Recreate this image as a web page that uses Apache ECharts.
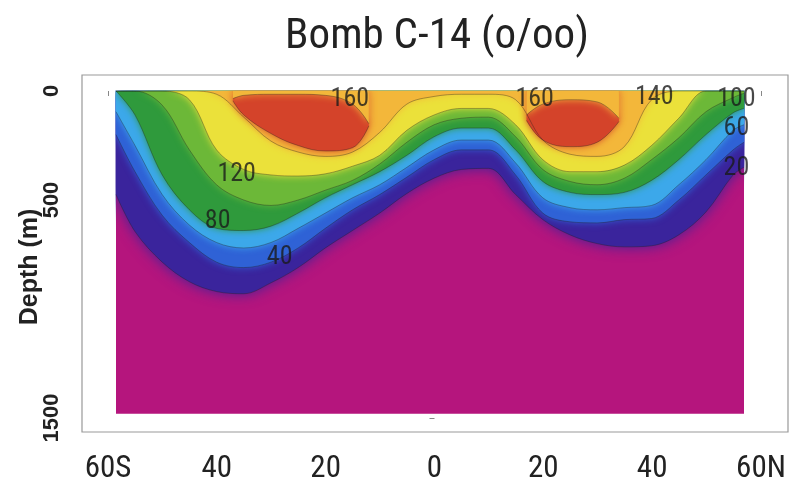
<!DOCTYPE html>
<html>
<head>
<meta charset="utf-8">
<script src="https://cdn.jsdelivr.net/npm/echarts@6/dist/echarts.min.js"></script>
<style>
  html, body { margin: 0; padding: 0; background: #fff; }
  #main { width: 792px; height: 486px; }
</style>
</head>
<body>
<div id="main"></div>
<script>
// latitude (negative = south) of each sampled column
const lats = [-58.5, -55, -50, -45, -40, -35, -30, -25, -20, -15, -10, -5, 0, 5, 10, 15, 20, 25, 30, 35, 40, 45, 50, 55, 57];

// depth (m) of each contour along the section, 0 = contour reaches the surface
const depth20  = [475, 645, 785, 875, 920, 930, 880, 810, 720, 640, 560, 470, 400, 360, 355, 475, 590, 660, 700, 715, 710, 660, 555, 385, 350];
const depth40  = [200, 370, 570, 695, 785, 810, 785, 720, 630, 545, 475, 395, 315, 270, 270, 385, 560, 600, 605, 590, 585, 500, 385, 270, 235];
const depth60  = [95, 250, 475, 615, 695, 720, 695, 630, 560, 490, 430, 350, 270, 225, 225, 330, 490, 535, 545, 535, 525, 430, 315, 180, 155];
const depth80  = [0, 110, 385, 545, 630, 640, 620, 560, 490, 430, 370, 295, 210, 170, 170, 270, 415, 465, 475, 465, 410, 315, 200, 100, 80];
const depth100 = [0, 0, 65, 270, 430, 500, 525, 500, 455, 410, 335, 235, 155, 125, 120, 210, 360, 415, 430, 400, 315, 215, 95, 30, 10];
const depth120 = [0, 0, 0, 40, 270, 360, 385, 390, 380, 345, 295, 180, 110, 80, 80, 155, 315, 370, 370, 340, 250, 125, 0, 0, 0];
const depth140 = [0, 0, 0, 0, 15, 120, 230, 280, 300, 280, 190, 60, 25, 15, 15, 40, 225, 290, 300, 255, 40, 0, 0, 0, 0];

// closed >160 cores: top and bottom depth
const coreSouthLats = [-37, -35, -30, -25, -20, -15, -12];
const coreSouthTop = [35, 20, 15, 15, 20, 60, 150];
const coreSouthBottom = [45, 110, 195, 250, 275, 260, 160];
const coreNorthLats = [17, 20, 25, 30, 34];
const coreNorthTop = [110, 60, 40, 50, 125];
const coreNorthBottom = [135, 225, 255, 235, 140];

const sectionStart = -58.5;
const sectionEnd = 57;
const sectionBottom = 1480;

// contour labels
const labelText = ['160', '160', '140', '100', '60', '20', '120', '80', '40'];
const labelLat = [-15.5, 18.5, 40.5, 55.6, 55.6, 55.6, -36.3, -39.8, -28.4];
const labelDepth = [40, 40, 30, 40, 170, 355, 385, 600, 765];

const NARROW = "'Liberation Sans Narrow','Arial Narrow','Roboto Condensed','Liberation Sans',sans-serif";
const contourLine = { color: 'rgba(30,30,30,0.45)', width: 0.8 };
const ORANGE = '#f3b73a';

function fill(name, cLats, depths, color, smooth, blur) {
    return {
        name: name,
        type: 'line',
        xAxisIndex: 1, yAxisIndex: 1,
        smooth: smooth,
        symbol: 'none',
        data: cLats.map((lat, i) => [lat, depths[i]]),
        lineStyle: contourLine,
        areaStyle: { color: color, opacity: 1, origin: 'start', shadowBlur: blur || 7, shadowColor: color },
        silent: true
    };
}

const myChart = echarts.init(document.getElementById('main'));

const hiddenAxis = {
    show: false,
    axisLine: { show: false }, axisTick: { show: false },
    axisLabel: { show: false }, splitLine: { show: false }
};

const option = {
    animation: false,
    backgroundColor: '#fff',
    grid: [
        { left: 108, right: 31, top: 91, bottom: 68 },
        { left: 116, right: 48, top: 91, bottom: 68 }
    ],
    xAxis: [{
        type: 'value', gridIndex: 0,
        min: -60, max: 60, interval: 20,
        offset: 14,
        axisLine: { show: false },
        axisTick: { show: true, length: 5, lineStyle: { color: '#888' } },
        splitLine: { show: false },
        axisLabel: {
            margin: 22,
            fontFamily: NARROW, fontSize: 31, color: '#222',
            formatter: v => v === -60 ? '60S' : (v === 60 ? '60N' : String(Math.abs(v)))
        }
    }, Object.assign({ type: 'value', gridIndex: 1, min: sectionStart, max: sectionEnd }, hiddenAxis)],
    yAxis: [{
        type: 'value', gridIndex: 0,
        inverse: true,
        min: 0, max: 1500, interval: 500,
        offset: 26,
        axisLine: { show: false },
        axisTick: { show: true, length: 5, lineStyle: { color: '#888' } },
        splitLine: { show: false },
        axisLabel: {
            rotate: 90,
            margin: 19,
            fontFamily: "'Liberation Sans',Arial,sans-serif", fontWeight: 'bold', fontSize: 22, color: '#222',
            formatter: v => v === 1000 ? '' : String(v)
        }
    }, Object.assign({ type: 'value', gridIndex: 1, inverse: true, min: 0, max: 1500 }, hiddenAxis)],
    graphic: [
        {
            type: 'rect', z: 100, silent: true,
            shape: { x: 82, y: 75, width: 706, height: 357 },
            style: { fill: 'none', stroke: '#999', lineWidth: 1.2 }
        },
        {
            type: 'text', z: 100,
            x: 437, y: 37,
            style: {
                text: 'Bomb C-14 (o/oo)', fill: '#222',
                font: '43px ' + NARROW,
                textAlign: 'center', textVerticalAlign: 'middle'
            }
        },
        {
            type: 'text', z: 100,
            x: 30, y: 267, rotation: Math.PI / 2,
            style: {
                text: 'Depth (m)', fill: '#222',
                font: 'bold 25px "Liberation Sans", Arial, sans-serif',
                textAlign: 'center', textVerticalAlign: 'middle'
            }
        }
    ],
    series: [
        {
            name: 'base',
            type: 'line',
            xAxisIndex: 1, yAxisIndex: 1,
            symbol: 'none',
            data: [[sectionStart, sectionBottom], [sectionEnd, sectionBottom]],
            lineStyle: { opacity: 0 },
            areaStyle: { color: '#b5157d', opacity: 1, origin: 'start' },
            silent: true
        },
        fill('20', lats, depth20, '#3a249c', 0.35, 14),
        fill('40', lats, depth40, '#2f62d6', 0.35),
        fill('60', lats, depth60, '#3ca8ea', 0.35),
        fill('80', lats, depth80, '#2f9a3c', 0.35),
        fill('100', lats, depth100, '#6cb838', 0.35),
        fill('120', lats, depth120, '#ebe13a', 0.35),
        fill('140', lats, depth140, ORANGE, 0.35),
        // red cores: fill down to the core bottom, then cover above the core top with orange again
        fill('160S', coreSouthLats, coreSouthBottom, '#d4432a', 0.4),
        fill('160Stop', coreSouthLats, coreSouthTop, ORANGE, 0.4),
        fill('160N', coreNorthLats, coreNorthBottom, '#d4432a', 0.4),
        fill('160Ntop', coreNorthLats, coreNorthTop, ORANGE, 0.4),
        {
            name: 'labels',
            type: 'scatter',
            xAxisIndex: 1, yAxisIndex: 1,
            symbolSize: 1,
            itemStyle: { color: 'transparent' },
            z: 20,
            data: labelText.map((t, i) => ({ value: [labelLat[i], labelDepth[i]], name: t })),
            label: {
                show: true,
                position: 'inside',
                formatter: p => p.name,
                fontFamily: NARROW, fontSize: 26, color: '#1a1a1a'
            },
            silent: true
        }
    ]
};

myChart.setOption(option);
</script>
</body>
</html>
